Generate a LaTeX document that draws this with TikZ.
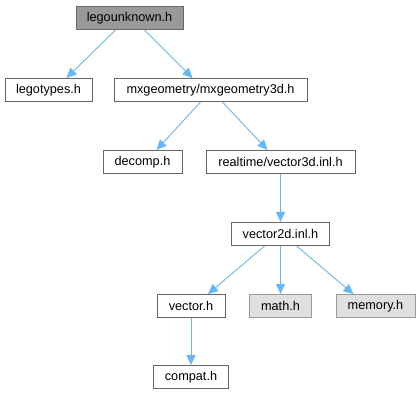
\documentclass[tikz,border=0pt]{standalone}
\usepackage{fontspec}
\setmainfont{Liberation Sans}
\usetikzlibrary{arrows.meta,positioning}
\definecolor{edgeblue}{HTML}{63B8FF}
\definecolor{boxgray}{HTML}{666666}
\definecolor{rootfill}{HTML}{999999}
\definecolor{extfill}{HTML}{E0E0E0}
\definecolor{extdraw}{HTML}{999999}
\tikzset{
  hb/.style={draw=boxgray, fill=white, line width=1pt, inner sep=0pt,
             minimum height=23pt, font=\fontsize{12.7}{15}\selectfont},
  hroot/.style={hb, fill=rootfill},
  hext/.style={hb, fill=extfill, draw=extdraw},
  ar/.style={-{Triangle[length=10pt,width=9pt]}, draw=edgeblue, line width=0.9pt},
}
\begin{document}
\begin{tikzpicture}[x=1pt,y=-1pt]
  \useasboundingbox (0,0) rectangle (420,403);
  \node[hroot, minimum width=107pt] (lu) at (129.5,18) {legounknown.h};
  \node[hb, minimum width=87pt] (lt) at (48.5,90) {legotypes.h};
  \node[hb, minimum width=193pt] (mx) at (210.5,90) {mxgeometry/mxgeometry3d.h};
  \node[hb, minimum width=79pt] (dc) at (142.5,162) {decomp.h};
  \node[hb, minimum width=149pt] (v3) at (280.5,162) {realtime/vector3d.inl.h};
  \node[hb, minimum width=98pt] (v2) at (280.5,234) {vector2d.inl.h};
  \node[hb, minimum width=68pt] (vec) at (191,306) {vector.h};
  \node[hext, minimum width=62pt] (mth) at (280.5,306) {math.h};
  \node[hext, minimum width=79pt] (mem) at (375.5,306) {memory.h};
  \node[hb, minimum width=75pt] (cpt) at (191,377) {compat.h};
  \draw[ar] ([xshift=-14pt]lu.south) -- ([xshift=18pt]lt.north);
  \draw[ar] ([xshift=15pt]lu.south) -- ([xshift=-18pt]mx.north);
  \draw[ar] ([xshift=-10pt]mx.south) -- ([xshift=14pt]dc.north);
  \draw[ar] ([xshift=12pt]mx.south) -- ([xshift=-13pt]v3.north);
  \draw[ar] (v3) -- (v2);
  \draw[ar] ([xshift=-16pt]v2.south) -- ([xshift=17pt]vec.north);
  \draw[ar] (v2) -- (mth);
  \draw[ar] ([xshift=16pt]v2.south) -- ([xshift=-22pt]mem.north);
  \draw[ar] (vec) -- (cpt);
\end{tikzpicture}
\end{document}
